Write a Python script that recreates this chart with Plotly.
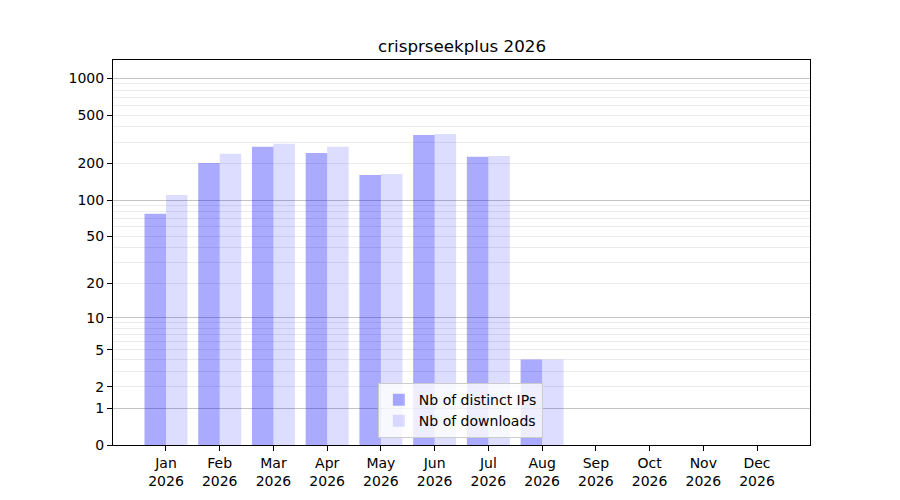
import plotly.graph_objects as go

# monthly stats for the package
months = ['Jan', 'Feb', 'Mar', 'Apr', 'May', 'Jun', 'Jul', 'Aug', 'Sep', 'Oct', 'Nov', 'Dec']
year = '2026'
distinct_ips = [77, 202, 274, 244, 161, 343, 227, 4, 0, 0, 0, 0]
downloads = [110, 240, 290, 274, 164, 350, 231, 4, 0, 0, 0, 0]

tick_values = [0, 1, 2, 5, 10, 20, 50, 100, 200, 500, 1000]
major_grid = [1, 10, 100, 1000]
minor_grid = [2, 3, 4, 5, 6, 7, 8, 9, 20, 30, 40, 50, 60, 70, 80, 90,
              200, 300, 400, 500, 600, 700, 800, 900]

x_labels = [m + '<br>' + year for m in months]


# the y scale is log(1 + n), so plotly's log axis gets n + 1
def shift(vals):
    return [v + 1 for v in vals]


fig = go.Figure()
fig.add_trace(go.Bar(x=x_labels, y=shift(distinct_ips), name='Nb of distinct IPs',
                     marker=dict(color='rgba(0,0,255,0.333)', line=dict(width=0)),
                     customdata=distinct_ips, hovertemplate='%{customdata}'))
fig.add_trace(go.Bar(x=x_labels, y=shift(downloads), name='Nb of downloads',
                     marker=dict(color='rgba(0,0,255,0.133)', line=dict(width=0)),
                     customdata=downloads, hovertemplate='%{customdata}'))

# invisible trace on the overlay axis so it gets drawn (darker grid lines)
fig.add_trace(go.Scatter(x=[x_labels[0]], y=[1], yaxis='y2', mode='markers',
                         marker=dict(opacity=0), showlegend=False, hoverinfo='skip'))

yrange = [0, 3.15]

fig.update_layout(
    width=900, height=500,
    paper_bgcolor='white', plot_bgcolor='white',
    font=dict(family='DejaVu Sans', size=14, color='black'),
    title=dict(text='crisprseekplus 2026', x=0.5045, xanchor='center', y=0.924, yanchor='middle',
               font=dict(size=16.7)),
    margin=dict(l=105, r=98, t=52, b=63),
    barmode='group', bargap=0.2, bargroupgap=0,
    showlegend=True,
    legend=dict(x=0.38, y=0.018, xanchor='left', yanchor='bottom',
                bgcolor='rgba(255,255,255,0.8)', bordercolor='#cccccc', borderwidth=1,
                font=dict(size=14), tracegroupgap=0),
    xaxis=dict(range=[-0.986, 11.986], showline=True, linecolor='black', linewidth=1,
               mirror=True, ticks='outside', ticklen=5, tickcolor='black',
               showgrid=False, zeroline=False),
    yaxis=dict(type='log', range=yrange, showline=True, linecolor='black', linewidth=1,
               mirror=True, ticks='outside', ticklen=5, tickcolor='black',
               tickmode='array', tickvals=shift(tick_values),
               ticktext=[str(t) for t in tick_values],
               showgrid=False, zeroline=False,
               minor=dict(tickmode='array', tickvals=shift(minor_grid), showgrid=True,
                          gridcolor='#ebebeb', gridwidth=1, ticks='')),
    yaxis2=dict(type='log', range=yrange, overlaying='y', side='left',
                tickmode='array', tickvals=shift(major_grid), showticklabels=False,
                ticks='', showgrid=True, gridcolor='#c4c4c4', gridwidth=1,
                zeroline=False, showline=False),
)

fig.write_html("out.html")
